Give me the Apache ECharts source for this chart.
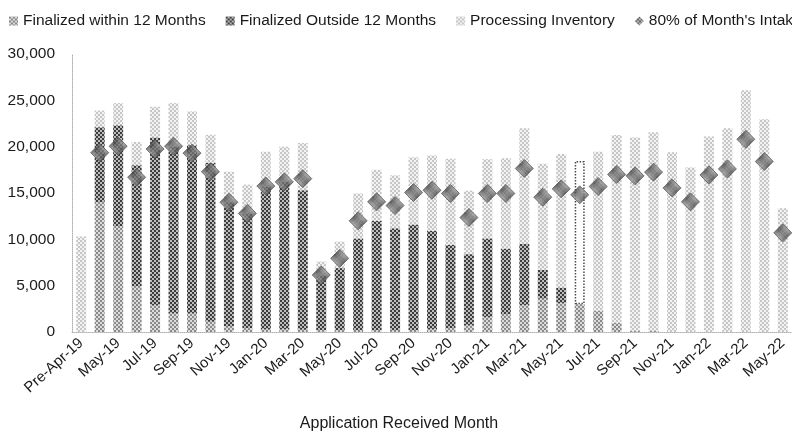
<!DOCTYPE html>
<html>
<head>
<meta charset="utf-8">
<script src="https://cdn.jsdelivr.net/npm/echarts@6/dist/echarts.min.js"></script>
<style>
  html, body { margin: 0; padding: 0; background: #fff; }
  #chart { width: 792px; height: 437px; }
</style>
</head>
<body>
<div id="chart"></div>
<script>
const categories = ['Pre-Apr-19','Apr-19','May-19','Jun-19','Jul-19','Aug-19','Sep-19','Oct-19','Nov-19','Dec-19',
  'Jan-20','Feb-20','Mar-20','Apr-20','May-20','Jun-20','Jul-20','Aug-20','Sep-20','Oct-20','Nov-20','Dec-20',
  'Jan-21','Feb-21','Mar-21','Apr-21','May-21','Jun-21','Jul-21','Aug-21','Sep-21','Oct-21','Nov-21','Dec-21',
  'Jan-22','Feb-22','Mar-22','Apr-22','May-22'];

const finalizedWithin12 = [0, 14000, 11400, 4900, 2900, 2000, 2000, 1100, 600, 400,
  300, 300, 250, 200, 200, 200, 200, 200, 200, 300, 400, 700,
  1600, 1900, 2900, 3600, 3100, 3000, 2300, 1000, 100, 100, 0, 0,
  0, 0, 0, 0, 0];

const finalizedOutside12 = [0, 8100, 10900, 13100, 18100, 18000, 18150, 17150, 13400, 12400,
  15400, 15900, 15050, 5900, 6700, 9900, 11800, 11000, 11400, 10600, 9000, 7700,
  8500, 7100, 6600, 3100, 1700, 0, 0, 0, 0, 0, 0, 0,
  0, 0, 0, 0, 0];

const processingInventory = [10300, 1800, 2400, 2500, 3300, 4700, 3650, 3030, 3300, 3100,
  3750, 3800, 5100, 1500, 2850, 4850, 5500, 5700, 7250, 8150, 9300, 6850,
  8550, 9750, 12500, 11450, 14400, 15450, 17150, 20250, 20900, 21450, 19400, 17750,
  21100, 22000, 26100, 22950, 13350];

const intake80 = [null, 19350, 20050, 16700, 19750, 20050, 19300, 17300, 14000, 12800,
  15750, 16200, 16550, 6150, 7950, 12000, 14050, 13650, 15050, 15300, 14950, 12350,
  14950, 14950, 17650, 14550, 15450, 14800, 15700, 17000, 16850, 17250, 15550, 14050,
  16950, 17600, 20800, 18400, 10700];

const yTicks = [0, 5000, 10000, 15000, 20000, 25000, 30000];

// Month whose open inventory is shown as an outlined box
const outlinedMonth = 'Jun-21';

// Checkerboard fills that give the dithered grey look
function checker(dark, light, cell) {
  const c = document.createElement('canvas');
  c.width = c.height = cell * 2;
  const ctx = c.getContext('2d');
  ctx.fillStyle = light;
  ctx.fillRect(0, 0, cell * 2, cell * 2);
  ctx.fillStyle = dark;
  ctx.fillRect(0, 0, cell, cell);
  ctx.fillRect(cell, cell, cell, cell);
  return { image: c, repeat: 'repeat' };
}

const fillWithin = checker('#8a8a8a', '#dcdcdc', 2);
const fillOutside = checker('#3c3c3c', '#bdbdbd', 2);
const fillProcessing = checker('#c6c6c6', '#f3f3f3', 2);
const fillDiamond = checker('#3c3c3c', '#a8a8a8', 2);

const FONT = '"Liberation Sans", Arial, Helvetica, sans-serif';
const INK = '#1a1a1a';

const processingData = processingInventory.map((v, i) =>
  categories[i] === outlinedMonth
    ? { value: v, itemStyle: { color: '#ffffff', borderColor: '#4a4a4a', borderType: 'dotted', borderWidth: 1.5 } }
    : v);

const chart = echarts.init(document.getElementById('chart'), null, { renderer: 'canvas' });

chart.setOption({
  animation: false,
  backgroundColor: '#ffffff',
  textStyle: { fontFamily: FONT },
  legend: {
    left: 4,
    top: 8,
    width: 1200,
    itemWidth: 9,
    itemHeight: 9,
    itemGap: 20,
    textStyle: { fontFamily: FONT, fontSize: 15.5, color: INK },
    data: [
      { name: 'Finalized within 12 Months', icon: 'rect' },
      { name: 'Finalized Outside 12 Months', icon: 'rect' },
      { name: 'Processing Inventory', icon: 'rect' },
      { name: "80% of Month's Intake", icon: 'diamond', itemStyle: { borderWidth: 0 } }
    ]
  },
  grid: { left: 72, right: -5, top: 54, bottom: 105, containLabel: false },
  xAxis: {
    type: 'category',
    data: categories,
    name: 'Application Received Month',
    nameLocation: 'middle',
    nameGap: 84,
    nameTextStyle: { fontFamily: FONT, fontSize: 16, color: INK, padding: [0, 0, 0, -66] },
    axisLine: { show: true, lineStyle: { color: '#b0b0b0', type: 'dotted', width: 1 } },
    axisTick: { show: false },
    axisLabel: { interval: 1, rotate: 42, fontFamily: FONT, fontSize: 15, color: INK, margin: 9 }
  },
  yAxis: {
    type: 'value',
    min: yTicks[0],
    max: yTicks[yTicks.length - 1],
    interval: yTicks[1] - yTicks[0],
    axisLine: { show: true, lineStyle: { color: '#b0b0b0', type: 'dotted', width: 1 } },
    axisTick: { show: false },
    splitLine: { show: false },
    axisLabel: {
      fontFamily: FONT, fontSize: 15.5, color: INK, margin: 17,
      formatter: v => v.toLocaleString('en-US')
    }
  },
  series: [
    {
      name: 'Finalized within 12 Months', type: 'bar', stack: 'apps',
      barWidth: 10, data: finalizedWithin12,
      itemStyle: { color: fillWithin }
    },
    {
      name: 'Finalized Outside 12 Months', type: 'bar', stack: 'apps',
      barWidth: 10, data: finalizedOutside12,
      itemStyle: { color: fillOutside }
    },
    {
      name: 'Processing Inventory', type: 'bar', stack: 'apps',
      barWidth: 10, data: processingData,
      itemStyle: { color: fillProcessing }
    },
    {
      name: "80% of Month's Intake", type: 'scatter',
      symbol: 'diamond', symbolSize: [18, 18], data: intake80,
      itemStyle: { color: fillDiamond, borderColor: '#5a5a5a', borderWidth: 1 },
      z: 5
    }
  ]
});
</script>
</body>
</html>
